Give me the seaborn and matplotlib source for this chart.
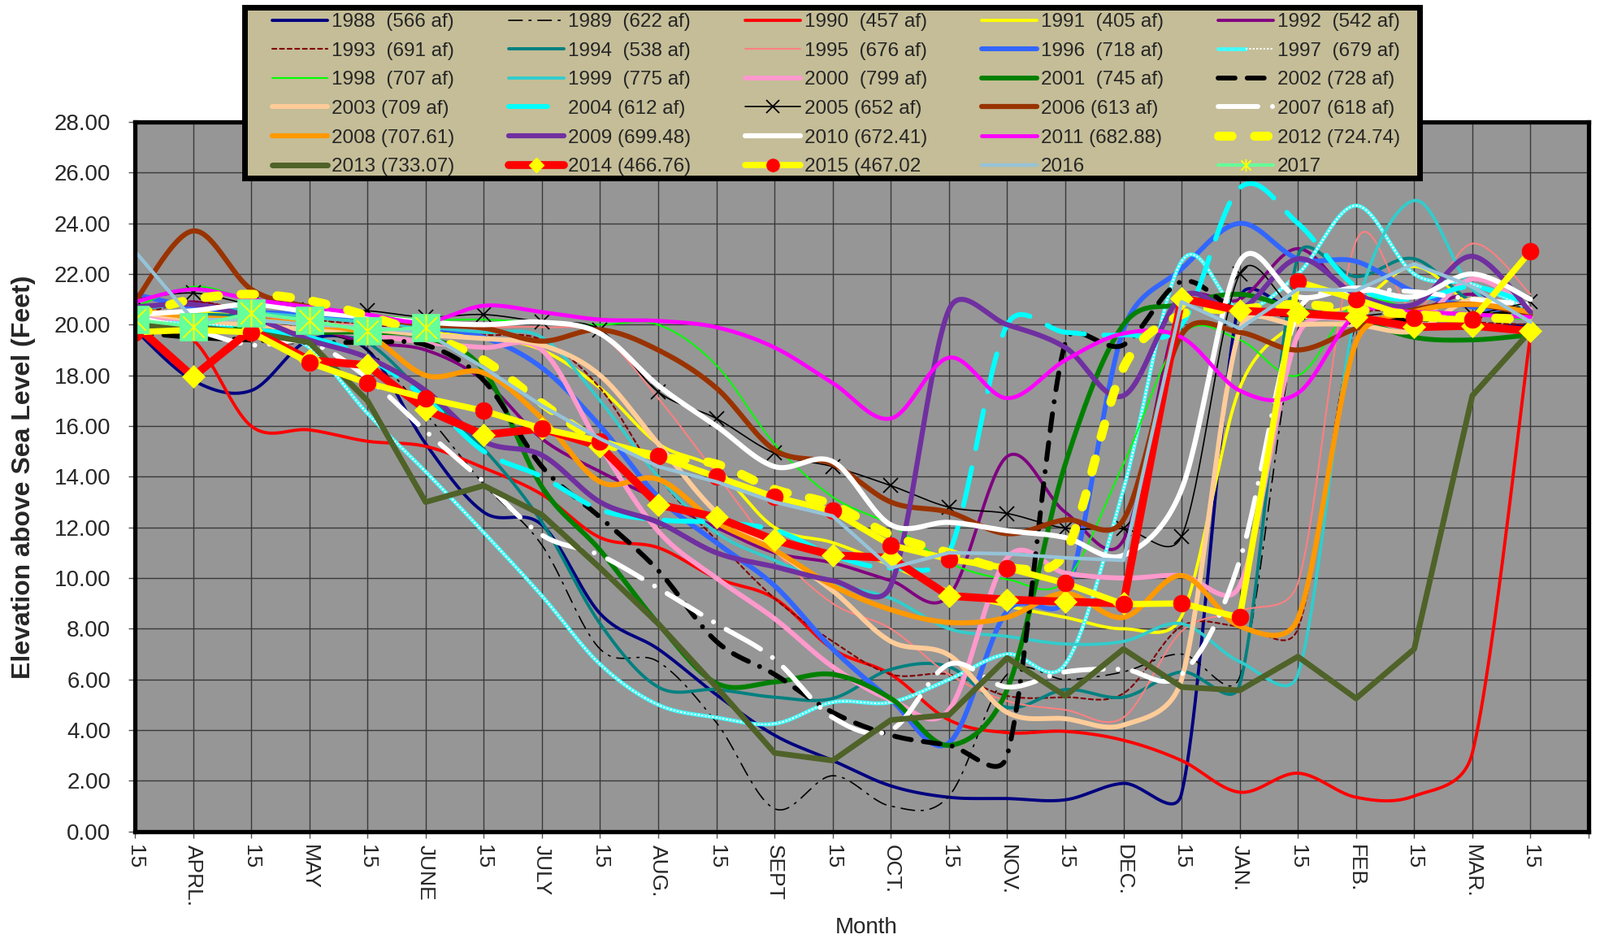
import numpy as np
import pandas as pd
import matplotlib
matplotlib.use("Agg")
import matplotlib.pyplot as plt
import seaborn as sns
from matplotlib.lines import Line2D
from matplotlib.path import Path
from matplotlib.patches import Rectangle
from matplotlib.legend_handler import HandlerTuple
from matplotlib.ticker import FormatStrFormatter

# ---------------- data ----------------
month_labels = ['15', 'APRL.', '15', 'MAY', '15', 'JUNE', '15', 'JULY', '15', 'AUG.',
                '15', 'SEPT', '15', 'OCT.', '15', 'NOV.', '15', 'DEC.', '15', 'JAN.',
                '15', 'FEB.', '15', 'MAR.', '15']
x_pos = list(range(25))

y_1988 = [19.8, 17.8, 17.4, 19.4, 19.0, 15.3, 12.6, 12.1, 8.6, 7.2, 5.4, 3.8, 2.8, 1.8, 1.35, 1.3, 1.25, 1.9, 1.5, 21.0, 20.5, 20.2, 20.0, 19.9, 20.0]
y_1989 = [20.5, 20.8, 20.3, 19.8, 19.0, 16.5, 13.7, 11.3, 7.2, 6.7, 4.3, 0.9, 2.2, 1.0, 1.4, 6.2, 6.0, 6.3, 7.0, 6.1, 19.8, 20.3, 20.5, 20.4, 20.8]
y_1990 = [19.8, 19.4, 16.0, 15.85, 15.4, 15.2, 14.35, 13.3, 11.6, 11.2, 10.0, 9.2, 7.2, 6.2, 4.4, 3.9, 3.95, 3.6, 2.8, 1.55, 2.3, 1.35, 1.4, 3.1, 19.6]
y_1991 = [20.3, 20.5, 20.3, 20.1, 19.9, 19.7, 19.5, 19.0, 17.5, 15.3, 14.3, 12.0, 11.4, 10.5, 9.5, 8.9, 8.45, 8.0, 8.5, 17.5, 20.1, 20.8, 22.3, 20.8, 20.2]
y_1992 = [20.5, 20.9, 20.4, 19.9, 19.3, 19.0, 17.8, 15.5, 14.2, 13.1, 12.0, 11.0, 10.6, 9.9, 9.3, 14.8, 12.6, 11.5, 20.8, 21.0, 23.0, 21.0, 20.6, 21.2, 20.3]
y_1993 = [20.3, 20.9, 20.5, 20.2, 20.0, 19.8, 19.6, 19.4, 17.5, 14.0, 11.5, 9.2, 7.5, 6.2, 6.2, 5.35, 5.3, 5.45, 8.1, 8.1, 8.0, 20.0, 20.3, 20.1, 20.0]
y_1994 = [20.2, 20.4, 20.3, 19.9, 19.3, 17.2, 15.1, 12.2, 8.2, 5.7, 5.6, 5.3, 5.25, 6.4, 6.5, 4.9, 5.6, 5.3, 6.3, 5.8, 22.7, 21.9, 22.6, 20.9, 20.4]
y_1995 = [20.6, 20.8, 20.4, 20.1, 20.0, 20.0, 19.9, 19.9, 19.6, 17.1, 14.1, 11.1, 9.0, 8.0, 6.2, 5.15, 4.8, 4.5, 7.9, 8.7, 9.8, 23.3, 20.6, 23.2, 21.2]
y_1996 = [21.2, 20.7, 20.5, 20.4, 20.2, 19.9, 19.5, 18.3, 16.0, 13.2, 11.4, 9.7, 7.2, 5.2, 3.5, 8.7, 9.2, 19.8, 22.2, 24.0, 22.6, 22.5, 21.3, 20.7, 20.5]
y_1997 = [20.3, 20.0, 19.9, 19.1, 16.5, 14.2, 11.8, 9.3, 6.6, 5.0, 4.5, 4.25, 5.1, 5.1, 6.0, 7.0, 6.6, 13.5, 22.5, 20.6, 22.0, 24.7, 22.0, 21.6, 20.6]
y_1998 = [20.7, 21.5, 21.0, 20.6, 20.4, 20.2, 20.2, 20.1, 20.0, 20.0, 18.4, 15.3, 13.2, 12.1, 10.6, 9.95, 9.9, 14.5, 19.6, 19.4, 18.0, 20.9, 20.6, 20.4, 20.2]
y_1999 = [20.6, 20.8, 20.5, 20.3, 20.1, 19.9, 19.7, 19.5, 17.0, 14.0, 11.8, 10.7, 9.8, 9.2, 8.0, 7.7, 7.4, 7.5, 8.2, 6.7, 6.2, 20.5, 24.9, 21.4, 20.2]
y_2000 = [20.3, 20.2, 20.0, 19.8, 19.6, 19.3, 19.1, 19.0, 15.2, 11.85, 10.0, 8.4, 6.5, 5.2, 4.8, 10.8, 10.2, 10.0, 10.1, 9.7, 19.6, 20.2, 20.0, 21.8, 20.6]
y_2001 = [20.0, 19.9, 19.8, 19.7, 19.7, 19.5, 18.2, 13.6, 11.1, 8.2, 5.85, 5.9, 6.2, 5.25, 3.4, 5.6, 14.5, 20.0, 20.8, 21.2, 20.6, 20.2, 19.5, 19.4, 19.6]
y_2002 = [19.7, 19.5, 19.4, 19.3, 19.3, 19.2, 17.8, 14.4, 12.4, 10.3, 7.5, 6.2, 4.7, 3.8, 3.4, 3.0, 19.3, 19.2, 21.7, 20.5, 20.4, 20.3, 20.2, 20.3, 20.6]
y_2003 = [20.5, 20.2, 20.0, 19.8, 19.8, 19.6, 19.45, 19.2, 18.0, 15.3, 12.6, 11.1, 9.5, 7.5, 6.96, 4.7, 4.45, 4.2, 6.0, 19.8, 20.0, 20.0, 19.75, 21.0, 20.3]
y_2004 = [20.1, 19.9, 19.8, 19.5, 18.7, 17.1, 15.0, 14.0, 12.7, 12.3, 12.2, 11.9, 10.9, 10.4, 11.0, 20.0, 19.7, 19.6, 20.0, 25.4, 24.0, 21.5, 21.0, 21.5, 20.8]
y_2005 = [21.0, 21.25, 20.8, 20.6, 20.55, 20.3, 20.4, 20.1, 19.8, 17.35, 16.3, 14.93, 14.4, 13.65, 12.8, 12.55, 11.97, 11.95, 11.65, 22.0, 20.5, 20.3, 20.2, 20.4, 20.9]
y_2006 = [20.9, 23.7, 21.4, 20.7, 20.3, 20.0, 19.87, 19.35, 19.8, 19.0, 17.5, 15.06, 14.5, 13.0, 12.6, 11.75, 12.3, 12.3, 19.6, 19.7, 19.0, 19.85, 20.6, 20.8, 20.4]
y_2007 = [20.3, 19.8, 19.2, 19.3, 17.9, 15.8, 13.8, 11.7, 10.9, 9.6, 8.2, 6.8, 4.5, 4.0, 6.6, 5.7, 6.3, 6.4, 6.2, 10.7, 20.5, 21.3, 21.3, 21.0, 20.8]
y_2008 = [20.6, 20.3, 20.2, 20.0, 19.6, 18.0, 18.1, 16.3, 13.8, 13.9, 12.2, 11.1, 9.7, 8.75, 8.25, 8.45, 9.4, 8.45, 10.1, 8.1, 8.4, 19.3, 20.5, 20.8, 20.5]
y_2009 = [20.7, 20.8, 20.3, 19.4, 18.7, 17.4, 15.4, 14.85, 13.0, 12.2, 11.0, 10.45, 9.9, 9.7, 20.6, 20.0, 19.1, 17.2, 21.1, 20.6, 22.6, 21.2, 20.8, 22.7, 20.5]
y_2010 = [20.4, 20.55, 20.8, 20.5, 20.3, 20.1, 20.0, 20.1, 19.65, 17.6, 16.0, 14.4, 14.6, 12.1, 12.2, 11.87, 11.6, 10.9, 13.5, 22.5, 21.1, 21.45, 21.1, 22.0, 21.0]
y_2011 = [20.9, 21.4, 21.0, 20.7, 20.4, 20.1, 20.75, 20.5, 20.2, 20.15, 19.9, 19.1, 17.7, 16.3, 18.7, 17.1, 18.6, 19.65, 19.5, 17.4, 17.3, 20.4, 20.5, 20.4, 20.3]
y_2012 = [20.4, 21.0, 21.2, 20.95, 20.35, 19.6, 18.6, 16.9, 15.4, 14.8, 14.5, 13.5, 12.9, 11.7, 11.0, 10.4, 11.0, 18.3, 20.4, 20.6, 20.8, 20.6, 20.4, 20.3, 20.2]
y_2013 = [20.0, 19.9, 19.7, 19.3, 17.0, 13.0, 13.65, 12.5, 10.4, 8.2, 5.7, 3.1, 2.8, 4.4, 4.6, 6.85, 5.35, 7.2, 5.7, 5.57, 6.9, 5.25, 7.2, 17.2, 19.75]
y_2014 = [20.0, 17.95, 19.8, 18.6, 18.4, 16.65, 15.65, 15.9, 15.2, 12.9, 12.4, 11.5, 10.9, 10.8, 9.3, 9.15, 9.07, 9.0, 21.05, 20.55, 20.45, 20.3, 19.9, 19.96, 19.75]
y_2015 = [19.7, 19.8, 19.7, 18.5, 17.7, 17.1, 16.6, 15.9, 15.4, 14.8, 14.0, 13.2, 12.65, 11.3, 10.75, 10.4, 9.8, 8.97, 9.0, 8.45, 21.7, 21.0, 20.26, 20.2, 22.9]
y_2016 = [22.9, 20.2, 20.2, 20.0, 19.9, 19.7, 18.3, 16.8, 15.5, 14.4, 13.8, 13.0, 12.45, 10.4, 11.0, 10.96, 10.8, 10.7, 20.9, 19.85, 21.4, 21.35, 22.4, 21.5, 20.1]
y_2017 = [20.19, 19.93, 20.46, 20.16, 19.76, 19.89]

series_labels = {
    1988: '1988  (566 af)', 1989: '1989  (622 af)', 1990: '1990  (457 af)',
    1991: '1991  (405 af)', 1992: '1992  (542 af)', 1993: '1993  (691 af)',
    1994: '1994  (538 af)', 1995: '1995  (676 af)', 1996: '1996  (718 af)',
    1997: '1997  (679 af)', 1998: '1998  (707 af)', 1999: '1999  (775 af)',
    2000: '2000  (799 af)', 2001: '2001  (745 af)', 2002: '2002 (728 af)',
    2003: '2003 (709 af)', 2004: '2004 (612 af)', 2005: '2005 (652 af)',
    2006: '2006 (613 af)', 2007: '2007 (618 af)', 2008: '2008 (707.61)',
    2009: '2009 (699.48)', 2010: '2010 (672.41)', 2011: '2011 (682.88)',
    2012: '2012 (724.74)', 2013: '2013 (733.07)', 2014: '2014 (466.76)',
    2015: '2015 (467.02', 2016: '2016', 2017: '2017',
}

series = {
    1988: y_1988, 1989: y_1989, 1990: y_1990, 1991: y_1991, 1992: y_1992,
    1993: y_1993, 1994: y_1994, 1995: y_1995, 1996: y_1996, 1997: y_1997,
    1998: y_1998, 1999: y_1999, 2000: y_2000, 2001: y_2001, 2002: y_2002,
    2003: y_2003, 2004: y_2004, 2005: y_2005, 2006: y_2006, 2007: y_2007,
    2008: y_2008, 2009: y_2009, 2010: y_2010, 2011: y_2011, 2012: y_2012,
    2013: y_2013, 2014: y_2014, 2015: y_2015, 2016: y_2016, 2017: y_2017,
}
years = list(series.keys())

# ---------------- styles ----------------
styles = {
    1988: dict(color='#000080', lw=2.8),
    1989: dict(color='black', lw=1.2, ls=(0, (10, 5, 1.5, 5))),
    1990: dict(color='#FF0000', lw=2.8),
    1991: dict(color='#FFFF00', lw=2.8),
    1992: dict(color='#800080', lw=2.8),
    1993: dict(color='#800000', lw=1.5, ls=(0, (2.5, 2))),
    1994: dict(color='#008080', lw=2.8),
    1995: dict(color='#FF8080', lw=1.5),
    1996: dict(color='#3366FF', lw=4.3),
    1997: dict(color='#40FFFF', lw=3.4),
    1998: dict(color='#00FF00', lw=1.5),
    1999: dict(color='#33CCCC', lw=2.8),
    2000: dict(color='#FF99CC', lw=4.3),
    2001: dict(color='#008000', lw=4.3),
    2002: dict(color='black', lw=4.3, ls=(0, (3.5, 2.5, 3.5, 2.5, 0.01, 2.5)), cap='round'),
    2003: dict(color='#FFCC99', lw=4.3),
    2004: dict(color='#00FFFF', lw=4.3, ls=(0, (8, 4)), cap='round'),
    2005: dict(color='black', lw=1.2),
    2006: dict(color='#993300', lw=4.5),
    2007: dict(color='white', lw=4.3, ls=(0, (8.2, 3, 0.01, 3)), cap='round'),
    2008: dict(color='#FF9900', lw=4.5),
    2009: dict(color='#7030A0', lw=4.5),
    2010: dict(color='white', lw=4.5),
    2011: dict(color='#FF00FF', lw=3.5),
    2012: dict(color='#FFFF00', lw=8.0, ls=(0, (1.5, 2.5)), cap='round'),
    2013: dict(color='#4F6228', lw=5.0),
    2014: dict(color='#FF0000', lw=7.0),
    2015: dict(color='#FFFF00', lw=5.5),
    2016: dict(color='#96C3D8', lw=3.2),
    2017: dict(color='#66FF99', lw=3.0),
}
straight_years = {2013, 2014, 2015, 2016, 2017}

star_path = Path([(-1, -1), (1, 1), (-1, 1), (1, -1), (0, -1.25), (0, 1.25)],
                 [Path.MOVETO, Path.LINETO, Path.MOVETO, Path.LINETO, Path.MOVETO, Path.LINETO])

# pixel size of one data unit on screen (used for Excel-like smoothing)
PX_X, PX_Y = 71.57, 31.18


def smooth_curve(xs, ys, n=30):
    """Excel-style smoothed line: cubic Bezier through the points, control
    points at 1/6 of the neighbour chord, limited to half the segment length."""
    P = np.column_stack([np.asarray(xs, float) * PX_X, np.asarray(ys, float) * PX_Y])
    N = len(P)
    t = np.linspace(0, 1, n, endpoint=False)[:, None]
    out = []
    for i in range(N - 1):
        p1, p2 = P[i], P[i + 1]
        p0 = P[i - 1] if i > 0 else p1
        p3 = P[i + 2] if i + 2 < N else p2
        d12 = np.hypot(*(p2 - p1))
        d02 = np.hypot(*(p2 - p0))
        d13 = np.hypot(*(p3 - p1))
        f0 = 1 / 6
        f1 = 1 / 6
        if d02 > 0 and d02 / 6 > d12 / 2:
            f0 = d12 / (2 * d02)
        if d13 > 0 and d13 / 6 > d12 / 2:
            f1 = d12 / (2 * d13)
        c1 = p1 + f0 * (p2 - p0)
        c2 = p2 - f1 * (p3 - p1)
        seg = ((1 - t) ** 3) * p1 + 3 * ((1 - t) ** 2) * t * c1 + 3 * (1 - t) * (t ** 2) * c2 + (t ** 3) * p2
        out.append(seg)
    out.append(P[-1][None, :])
    arr = np.vstack(out)
    return pd.DataFrame({'x': arr[:, 0] / PX_X, 'y': arr[:, 1] / PX_Y})


def line_kws(st):
    kw = dict(color=st['color'], linewidth=st['lw'])
    kw['linestyle'] = st.get('ls', '-')
    kw['solid_capstyle'] = 'round'
    kw['dash_capstyle'] = st.get('cap', 'round')
    kw['solid_joinstyle'] = 'round'
    return kw


# ---------------- figure ----------------
sns.set_style('white')
plt.rcParams['font.family'] = ['Liberation Sans', 'DejaVu Sans']

fig = plt.figure(figsize=(19.69, 11.55), dpi=100)
ax = fig.add_axes([0.0843, 0.1145, 0.9086, 0.7556])
ax.set_facecolor('#969696')

for i, yr in enumerate(years):
    ys = series[yr]
    xs = x_pos[:len(ys)]
    st = styles[yr]
    z = 2.0 + i * 0.014
    if yr in straight_years:
        df = pd.DataFrame({'x': xs, 'y': ys})
    else:
        df = smooth_curve(xs, ys)
    sns.lineplot(data=df, x='x', y='y', ax=ax, sort=False, estimator=None,
                 legend=False, zorder=z, **line_kws(st))
    pts = pd.DataFrame({'x': xs, 'y': ys})
    if yr == 1997:
        sns.lineplot(data=df, x='x', y='y', ax=ax, sort=False, estimator=None, legend=False,
                     color='white', linewidth=1.5, linestyle=(0, (1, 1.1)), zorder=z + 0.001)
    if yr == 2005:
        sns.lineplot(data=pts, x='x', y='y', ax=ax, sort=False, estimator=None, legend=False,
                     linestyle='none', marker='x', markersize=13, markeredgewidth=1.3,
                     color='black', markeredgecolor='black', zorder=z + 0.001)
    if yr == 2014:
        sns.lineplot(data=pts, x='x', y='y', ax=ax, sort=False, estimator=None, legend=False,
                     linestyle='none', marker='D', markersize=14, markerfacecolor='#FFFF00',
                     markeredgecolor='#FFFF00', markeredgewidth=0.5, zorder=z + 0.001)
    if yr == 2015:
        sns.lineplot(data=pts, x='x', y='y', ax=ax, sort=False, estimator=None, legend=False,
                     linestyle='none', marker='o', markersize=15, markerfacecolor='#FF0000',
                     markeredgecolor='#FF0000', markeredgewidth=0.5, zorder=z + 0.001)
    if yr == 2017:
        sns.lineplot(data=pts, x='x', y='y', ax=ax, sort=False, estimator=None, legend=False,
                     linestyle='none', marker='s', markersize=24, markerfacecolor='#66FF99',
                     markeredgecolor='#66FF99', markeredgewidth=0.5, zorder=z + 0.001)
        sns.lineplot(data=pts, x='x', y='y', ax=ax, sort=False, estimator=None, legend=False,
                     linestyle='none', marker=star_path, markersize=24, markerfacecolor='none',
                     markeredgecolor='#FFFF00', markeredgewidth=1.4, zorder=z + 0.002)

# axes formatting
ax.set_xlim(0, 25)
ax.set_ylim(0, 28)
ax.set_xticks(range(26))
ax.set_xticklabels(month_labels + [''], rotation=-90, fontsize=19, va='top', ha='center')
ax.set_yticks(range(0, 29, 2))
ax.yaxis.set_major_formatter(FormatStrFormatter('%.2f'))
ax.tick_params(axis='y', labelsize=20, direction='out', length=5.5, width=1.0,
               color='#555555', pad=16, left=True)
ax.tick_params(axis='x', direction='out', length=5.5, width=1.0, color='#555555',
               pad=6, bottom=True)
ax.set_axisbelow(True)
ax.grid(True, color='#3a3a3a', linewidth=1.0)
for sp in ax.spines.values():
    sp.set_visible(True)
    sp.set_color('black')
    sp.set_linewidth(3.8)

ax.set_xlabel('Month', fontsize=20)
ax.xaxis.set_label_coords(0.503, -0.121)
ax.set_ylabel('Elevation above Sea Level (Feet)', fontsize=23, fontweight='bold')
ax.yaxis.set_label_coords(-0.068, 0.5)


# ---------------- legend ----------------
def legend_handle(yr):
    st = styles[yr]
    kw = line_kws(st)
    if yr == 1997:
        base = Line2D([0], [0], **kw)
        over = Line2D([0], [0], color='white', linewidth=1.5, linestyle=(0, (1, 1.1)))
        return (base, over)
    if yr == 2005:
        return Line2D([0], [0], marker='x', markersize=11, markeredgewidth=1.3,
                      markeredgecolor='black', **kw)
    if yr == 2014:
        return Line2D([0], [0], marker='D', markersize=9, markerfacecolor='#FFFF00',
                      markeredgecolor='#FFFF00', **kw)
    if yr == 2015:
        return Line2D([0], [0], marker='o', markersize=11, markerfacecolor='#FF0000',
                      markeredgecolor='#FF0000', **kw)
    if yr == 2017:
        return Line2D([0], [0], marker=star_path, markersize=11, markerfacecolor='none',
                      markeredgecolor='#FFFF00', markeredgewidth=1.4, **kw)
    return Line2D([0], [0], **kw)


ncol = 5
nrow = 6
order = [years[r * ncol + c] for c in range(ncol) for r in range(nrow)]
handles = [legend_handle(y) for y in order]
labels = [series_labels[y] for y in order]

frame = Rectangle((0.1531, 0.8108), 0.7339, 0.1818, transform=fig.transFigure,
                  facecolor='#C4BD97', edgecolor='black', linewidth=5, zorder=4,
                  joinstyle='miter')
fig.patches.append(frame)

leg = fig.legend(handles, labels, ncol=ncol, loc='upper left',
                 bbox_to_anchor=(335.0 / 1969, 1 - 16.0 / 1155),
                 frameon=False, fontsize=17.5, handlelength=2.8, handletextpad=0.2,
                 columnspacing=2.75, labelspacing=0.56, borderpad=0.0, borderaxespad=0.0,
                 handler_map={tuple: HandlerTuple(ndivide=None)})
leg.set_zorder(5)

fig.savefig('out.png', dpi=100, facecolor='white')
